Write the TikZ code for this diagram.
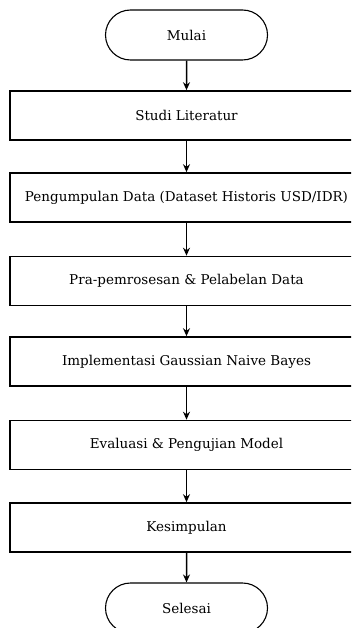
\documentclass[tikz,border=0pt]{standalone}
\usepackage{fontspec}
\setmainfont{DejaVu Serif}
\usetikzlibrary{arrows.meta,shapes.misc}
\begin{document}
\begin{tikzpicture}[x=1pt,y=-1pt,
  proc/.style={draw=black,line width=1.6pt,minimum width=353pt,minimum height=49pt,inner sep=0pt,font=\fontsize{13.5}{16}\selectfont},
  term/.style={draw=black,line width=1.1pt,rounded rectangle,minimum width=162pt,minimum height=50pt,inner sep=0pt,font=\fontsize{13.5}{16}\selectfont},
  flow/.style={line width=1.5pt,-{Stealth[length=8pt,width=7pt]}}]
\useasboundingbox (0,0) rectangle (351,628);
\clip (0,0) rectangle (351,628);
\node[term] (start) at (186.5,35) {Mulai};
\node[proc] (b1) at (186.5,115.5) {Studi Literatur};
\node[proc] (b2) at (186.5,197.5) {Pengumpulan Data (Dataset Historis USD/IDR)};
\node[proc] (b3) at (186.5,281) {Pra-pemrosesan \& Pelabelan Data};
\node[proc] (b4) at (186.5,361.5) {Implementasi Gaussian Naive Bayes};
\node[proc] (b5) at (186.5,445) {Evaluasi \& Pengujian Model};
\node[proc] (b6) at (186.5,527.5) {Kesimpulan};
\node[term] (end) at (186.5,608) {Selesai};
\draw[flow] (start) -- (b1);
\draw[flow] (b1) -- (b2);
\draw[flow] (b2) -- (b3);
\draw[flow] (b3) -- (b4);
\draw[flow] (b4) -- (b5);
\draw[flow] (b5) -- (b6);
\draw[flow] (b6) -- (end);
\end{tikzpicture}
\end{document}
